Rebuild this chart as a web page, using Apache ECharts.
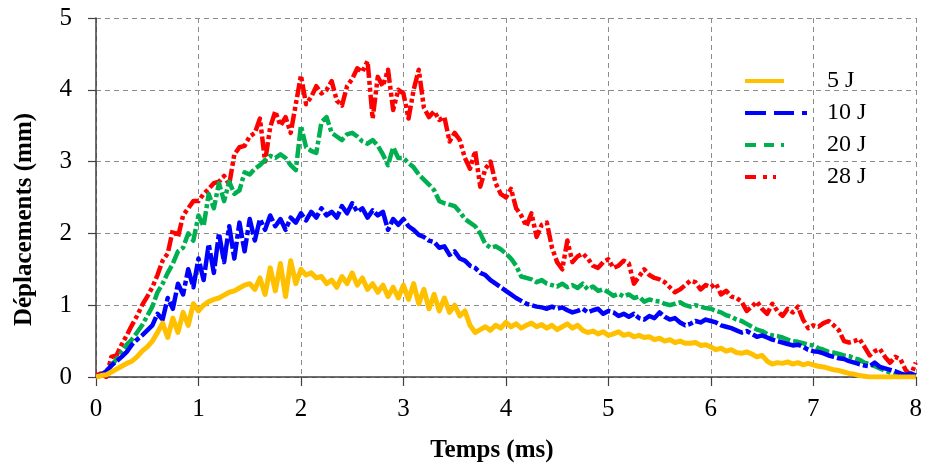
<!DOCTYPE html>
<html>
<head>
<meta charset="utf-8">
<script src="https://cdn.jsdelivr.net/npm/echarts@6/dist/echarts.min.js"></script>
<style>html,body{margin:0;padding:0;background:#fff;}#c{width:925px;height:468px;}</style>
</head>
<body>
<div id="c"></div>
<script>
// Time samples (ms)
var time = [0,0.05,0.1,0.15,0.2,0.25,0.3,0.35,0.4,0.45,0.5,0.55,0.6,0.65,0.7,0.75,0.8,0.85,0.9,0.95,
1,1.05,1.1,1.15,1.2,1.25,1.3,1.35,1.4,1.45,1.5,1.55,1.6,1.65,1.7,1.75,1.8,1.85,1.9,1.95,
2,2.05,2.1,2.15,2.2,2.25,2.3,2.35,2.4,2.45,2.5,2.55,2.6,2.65,2.7,2.75,2.8,2.85,2.9,2.95,
3,3.05,3.1,3.15,3.2,3.25,3.3,3.35,3.4,3.45,3.5,3.55,3.6,3.65,3.7,3.75,3.8,3.85,3.9,3.95,
4,4.05,4.1,4.15,4.2,4.25,4.3,4.35,4.4,4.45,4.5,4.55,4.6,4.65,4.7,4.75,4.8,4.85,4.9,4.95,
5,5.05,5.1,5.15,5.2,5.25,5.3,5.35,5.4,5.45,5.5,5.55,5.6,5.65,5.7,5.75,5.8,5.85,5.9,5.95,
6,6.05,6.1,6.15,6.2,6.25,6.3,6.35,6.4,6.45,6.5,6.55,6.6,6.65,6.7,6.75,6.8,6.85,6.9,6.95,
7,7.05,7.1,7.15,7.2,7.25,7.3,7.35,7.4,7.45,7.5,7.55,7.6,7.65,7.7,7.75,7.8,7.85,7.9,7.95,8];

// Displacements (mm)
var d5J = [0,0.02,0.03,0.07,0.11,0.15,0.19,0.22,0.28,0.36,0.42,0.5,0.62,0.75,0.55,0.82,0.62,0.9,0.72,1.02,
0.92,1.0,1.05,1.08,1.1,1.14,1.18,1.2,1.24,1.28,1.3,1.22,1.38,1.15,1.52,1.2,1.58,1.12,1.62,1.3,
1.5,1.42,1.45,1.38,1.4,1.3,1.35,1.25,1.4,1.3,1.45,1.28,1.38,1.22,1.3,1.18,1.28,1.12,1.25,1.1,
1.28,1.08,1.3,1.02,1.22,0.95,1.15,0.92,1.1,0.9,1.0,0.85,0.92,0.72,0.62,0.66,0.7,0.65,0.72,0.68,
0.76,0.7,0.74,0.68,0.72,0.75,0.7,0.73,0.68,0.72,0.66,0.7,0.74,0.68,0.72,0.65,0.62,0.64,0.6,0.63,
0.58,0.6,0.63,0.58,0.6,0.56,0.58,0.55,0.56,0.52,0.54,0.5,0.52,0.48,0.5,0.47,0.47,0.48,0.44,0.45,
0.42,0.38,0.4,0.36,0.38,0.34,0.33,0.35,0.32,0.28,0.3,0.22,0.18,0.2,0.19,0.21,0.18,0.2,0.17,0.19,
0.17,0.15,0.14,0.12,0.1,0.09,0.07,0.05,0.04,0.02,0.01,0,0,0,0,0,0,0,0,0,0];

var d10J = [0,0.03,0.08,0.16,0.22,0.28,0.35,0.45,0.52,0.58,0.65,0.72,0.88,0.8,1.1,0.95,1.3,1.15,1.5,1.25,
1.65,1.35,1.85,1.45,2.0,1.6,2.1,1.65,2.15,1.75,2.2,1.9,2.2,2.05,2.25,2.1,2.2,2.05,2.22,2.15,
2.28,2.18,2.3,2.22,2.35,2.25,2.3,2.22,2.38,2.28,2.42,2.3,2.35,2.22,2.32,2.25,2.3,2.05,2.2,2.12,
2.2,2.1,2.05,1.98,1.95,1.9,1.88,1.8,1.82,1.7,1.75,1.65,1.62,1.55,1.52,1.45,1.42,1.35,1.3,1.25,
1.2,1.15,1.1,1.06,1.02,1.0,0.98,0.97,0.95,0.98,0.95,0.97,0.93,0.9,0.92,0.95,0.9,0.93,0.95,0.88,
0.92,0.9,0.85,0.88,0.84,0.88,0.82,0.8,0.85,0.82,0.9,0.84,0.8,0.82,0.76,0.72,0.74,0.78,0.76,0.8,
0.78,0.76,0.72,0.7,0.68,0.65,0.62,0.64,0.6,0.56,0.58,0.55,0.52,0.5,0.48,0.46,0.44,0.45,0.42,0.38,
0.36,0.35,0.33,0.3,0.28,0.26,0.25,0.22,0.2,0.18,0.16,0.15,0.2,0.14,0.12,0.1,0.08,0.05,0.03,0.05,0.02];

var d20J = [0,0.02,0.08,0.16,0.25,0.35,0.45,0.52,0.62,0.72,0.85,0.98,1.18,1.3,1.45,1.58,1.75,1.8,2.0,1.9,
2.25,2.1,2.55,2.35,2.7,2.45,2.72,2.55,2.6,2.85,2.82,2.9,2.95,3.02,3.08,3.05,3.1,3.05,2.95,2.88,
3.5,3.2,3.15,3.12,3.55,3.62,3.4,3.35,3.3,3.38,3.4,3.35,3.28,3.25,3.3,3.22,3.1,2.95,3.2,3.05,
3.05,2.98,2.92,2.82,2.75,2.68,2.6,2.45,2.42,2.4,2.38,2.3,2.2,2.15,2.1,2.0,1.85,1.8,1.82,1.78,
1.72,1.65,1.55,1.4,1.38,1.36,1.32,1.35,1.3,1.28,1.26,1.3,1.25,1.28,1.24,1.3,1.22,1.26,1.2,1.22,
1.18,1.13,1.16,1.12,1.15,1.1,1.12,1.05,1.08,1.06,1.05,1.02,1.0,1.02,1.04,1.0,0.98,1.0,0.98,0.96,
0.95,0.92,0.9,0.86,0.84,0.8,0.78,0.74,0.7,0.66,0.64,0.6,0.58,0.57,0.55,0.52,0.5,0.49,0.47,0.45,
0.44,0.4,0.38,0.35,0.34,0.32,0.3,0.29,0.26,0.24,0.2,0.18,0.15,0.12,0.09,0.06,0.04,0.03,0.02,0.01,0];

var d28J = [0.02,0.05,0,0.28,0.3,0.45,0.58,0.72,0.85,1.0,1.12,1.25,1.42,1.62,1.72,2.05,1.95,2.25,2.35,2.45,
2.45,2.55,2.62,2.7,2.72,2.8,2.68,3.1,3.2,3.22,3.35,3.4,3.6,3.0,3.48,3.7,3.5,3.62,3.4,3.8,
4.2,3.8,3.9,4.05,3.95,4.0,4.12,3.85,3.78,4.05,4.15,4.3,4.25,4.4,3.6,4.18,4.05,4.28,3.72,4.0,
3.95,3.6,4.0,4.28,3.75,3.62,3.7,3.58,3.62,3.28,3.4,3.3,3.05,2.9,3.15,2.65,2.9,3.0,2.7,2.55,
2.5,2.62,2.35,2.25,2.1,2.28,1.95,2.12,2.15,1.8,1.6,1.5,1.9,1.6,1.68,1.72,1.65,1.55,1.52,1.6,
1.64,1.52,1.55,1.62,1.58,1.3,1.4,1.5,1.42,1.38,1.36,1.32,1.25,1.18,1.22,1.28,1.34,1.32,1.22,1.28,
1.25,1.3,1.15,1.2,1.12,1.1,1.05,0.92,0.98,1.05,0.95,0.88,1.02,0.92,0.85,0.95,0.9,0.98,0.8,0.68,
0.72,0.7,0.75,0.78,0.72,0.65,0.5,0.48,0.5,0.53,0.42,0.3,0.36,0.39,0.28,0.2,0.28,0.25,0.1,0.02,0.2];

var seriesNames = ['5 J', '10 J', '20 J', '28 J'];
var seriesValues = [d5J, d10J, d20J, d28J];
var colors = ['#FFC000', '#0000FF', '#00B050', '#FF0000'];
var dashes = [null, [24, 3, 24, 3, 5, 3], [14, 3, 14, 3, 4, 3], [14, 3, 4, 3, 4, 3]];
var widths = [5, 4.5, 4.5, 4.5];
var icons = [
  'path://M0,0h39v4h-39z M77,0v4',
  'path://M0,0h21v4h-21z M29,0h20v4h-20z M57,0h5v4h-5z M77,0v4',
  'path://M0,0h11v4h-11z M19,0h10v4h-10z M36,0h3v4h-3z M77,0v4',
  'path://M0,0h11v4h-11z M18,0h4v4h-4z M28,0h3v4h-3z M77,0v4'
];
var xTicks = [0, 8, 1];
var yTicks = [0, 5, 1];

function pairs(vals) {
  var out = [];
  for (var i = 0; i < time.length; i++) out.push([time[i], vals[i]]);
  return out;
}

var chart = echarts.init(document.getElementById('c'), null, {renderer: 'canvas'});
var font = '"Liberation Serif", "Times New Roman", serif';
var axisColor = '#404040';
var option = {
  animation: false,
  backgroundColor: '#ffffff',
  grid: {left: 96, right: 8, top: 18, bottom: 90, containLabel: false},
  legend: {
    orient: 'vertical',
    left: 740,
    top: 60,
    itemWidth: 77,
    itemHeight: 4,
    itemGap: 0,
    itemStyle: {borderWidth: 0},
    textStyle: {fontFamily: font, fontSize: 24, color: '#000', lineHeight: 32},
    data: seriesNames.map(function (n, i) { return {name: n, icon: icons[i]}; })
  },
  xAxis: {
    type: 'value', min: xTicks[0], max: xTicks[1], interval: xTicks[2],
    name: 'Temps (ms)', nameLocation: 'middle', nameGap: 61,
    nameTextStyle: {fontFamily: font, fontSize: 25, fontWeight: 'bold', color: '#000', padding: [0, 28, 0, 0]},
    axisLine: {show: true, lineStyle: {color: axisColor, width: 1.5}},
    axisTick: {show: true, length: 9, lineStyle: {color: axisColor, width: 1.2}},
    axisLabel: {fontFamily: font, fontSize: 25, color: '#000', margin: 20},
    splitLine: {show: true, lineStyle: {color: '#8c8c8c', type: [5, 4], width: 1}}
  },
  yAxis: {
    type: 'value', min: yTicks[0], max: yTicks[1], interval: yTicks[2],
    name: 'Déplacements (mm)', nameLocation: 'middle', nameGap: 59,
    nameTextStyle: {fontFamily: font, fontSize: 25, fontWeight: 'bold', color: '#000', padding: [0, 44, 0, 0]},
    axisLine: {show: true, lineStyle: {color: axisColor, width: 1.5}},
    axisTick: {show: true, length: 8, lineStyle: {color: axisColor, width: 1.2}},
    axisLabel: {fontFamily: font, fontSize: 25, color: '#000', margin: 24},
    splitLine: {show: true, lineStyle: {color: '#8c8c8c', type: [5, 4], width: 1}}
  },
  series: seriesNames.map(function (n, i) {
    return {
      name: n,
      type: 'line',
      data: pairs(seriesValues[i]),
      showSymbol: false,
      symbol: 'none',
      z: 10 - i,
      itemStyle: {color: colors[i], borderWidth: 0},
      lineStyle: {color: colors[i], width: widths[i], type: dashes[i] || 'solid', join: 'round'}
    };
  })
};
chart.setOption(option);
</script>
</body>
</html>
